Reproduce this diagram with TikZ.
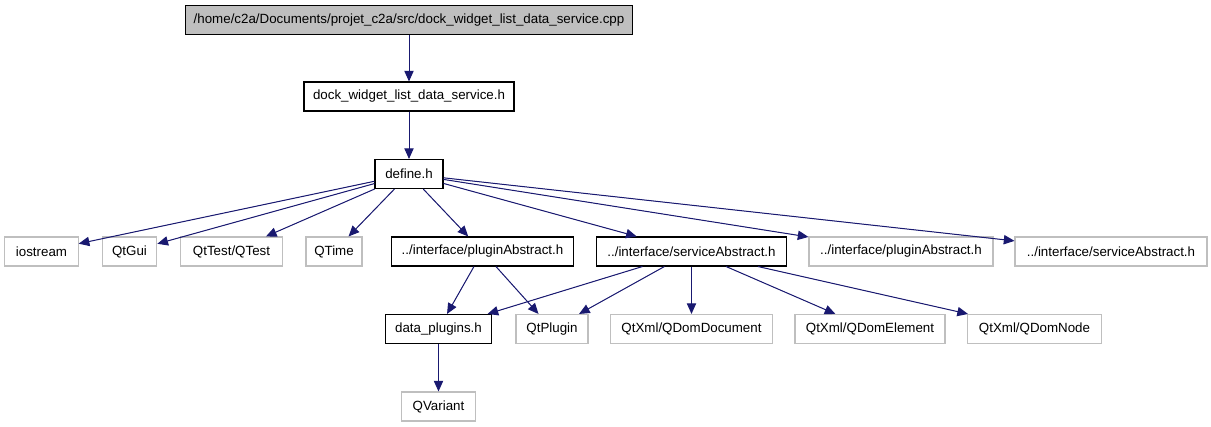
\documentclass[tikz,border=0pt]{standalone}
\usepackage{fontspec}
\setmainfont{Liberation Sans}
\usepackage{xcolor}
\usetikzlibrary{arrows.meta}
\definecolor{midnight}{RGB}{25,25,112}
\definecolor{boxgray}{RGB}{191,191,191}
\tikzset{
  filebox/.style={draw=black,line width=0.8pt,fill=white,minimum height=21.75pt,inner sep=0pt,font=\fontsize{10}{12}\selectfont},
  rootbox/.style={filebox,fill=boxgray},
  extbox/.style={filebox,draw=boxgray},
  dep/.style={-{Triangle[length=8pt,width=7pt]},line width=0.75pt,draw=midnight,fill=midnight}
}
\begin{document}
\begin{tikzpicture}[x=0.75pt,y=-0.75pt]
  \useasboundingbox (0,0) rectangle (1211,427);
  % included files
  \node[rootbox,minimum width=335pt] (cpp) at (409,20) {/home/c2a/Documents/projet\_c2a/src/dock\_widget\_list\_data\_service.cpp};
  \node[filebox,minimum width=157.5pt] (dockh) at (409,96.5) {dock\_widget\_list\_data\_service.h};
  \node[filebox,minimum width=51pt] (defineh) at (409,174) {define.h};
  \node[extbox,minimum width=55pt] (iostream) at (41.5,251.5) {iostream};
  \node[extbox,minimum width=41pt] (qtgui) at (129.5,251.5) {QtGui};
  \node[extbox,minimum width=77pt] (qttest) at (231.5,251.5) {QtTest/QTest};
  \node[extbox,minimum width=42pt] (qtime) at (334,251.5) {QTime};
  \node[filebox,minimum width=137pt] (pluginh) at (482.5,251.5) {../interface/pluginAbstract.h};
  \node[filebox,minimum width=143pt] (serviceh) at (691.5,251.5) {../interface/serviceAbstract.h};
  \node[extbox,minimum width=138pt] (pluginext) at (901,251.5) {../interface/pluginAbstract.h};
  \node[extbox,minimum width=144pt] (serviceext) at (1111,251.5) {../interface/serviceAbstract.h};
  \node[filebox,minimum width=80pt] (dataplug) at (438.5,329) {data\_plugins.h};
  \node[extbox,minimum width=54pt] (qtplugin) at (552,329) {QtPlugin};
  \node[extbox,minimum width=121pt] (qdomdoc) at (691.5,329) {QtXml/QDomDocument};
  \node[extbox,minimum width=112.5pt] (qdomelem) at (870,329) {QtXml/QDomElement};
  \node[extbox,minimum width=100pt] (qdomnode) at (1034.5,329) {QtXml/QDomNode};
  \node[extbox,minimum width=55pt] (qvariant) at (438.5,406.5) {QVariant};
  % dependencies
  \draw[dep] (cpp) -- (dockh);
  \draw[dep] (dockh) -- (defineh);
  \foreach \t in {iostream,qtgui,qttest,qtime,pluginh,serviceh,pluginext,serviceext}{\draw[dep] (defineh) -- (\t);}
  \foreach \t in {dataplug,qtplugin}{\draw[dep] (pluginh) -- (\t);}
  \foreach \t in {dataplug,qtplugin,qdomdoc,qdomelem,qdomnode}{\draw[dep] (serviceh) -- (\t);}
  \draw[dep] (dataplug) -- (qvariant);
\end{tikzpicture}
\end{document}
